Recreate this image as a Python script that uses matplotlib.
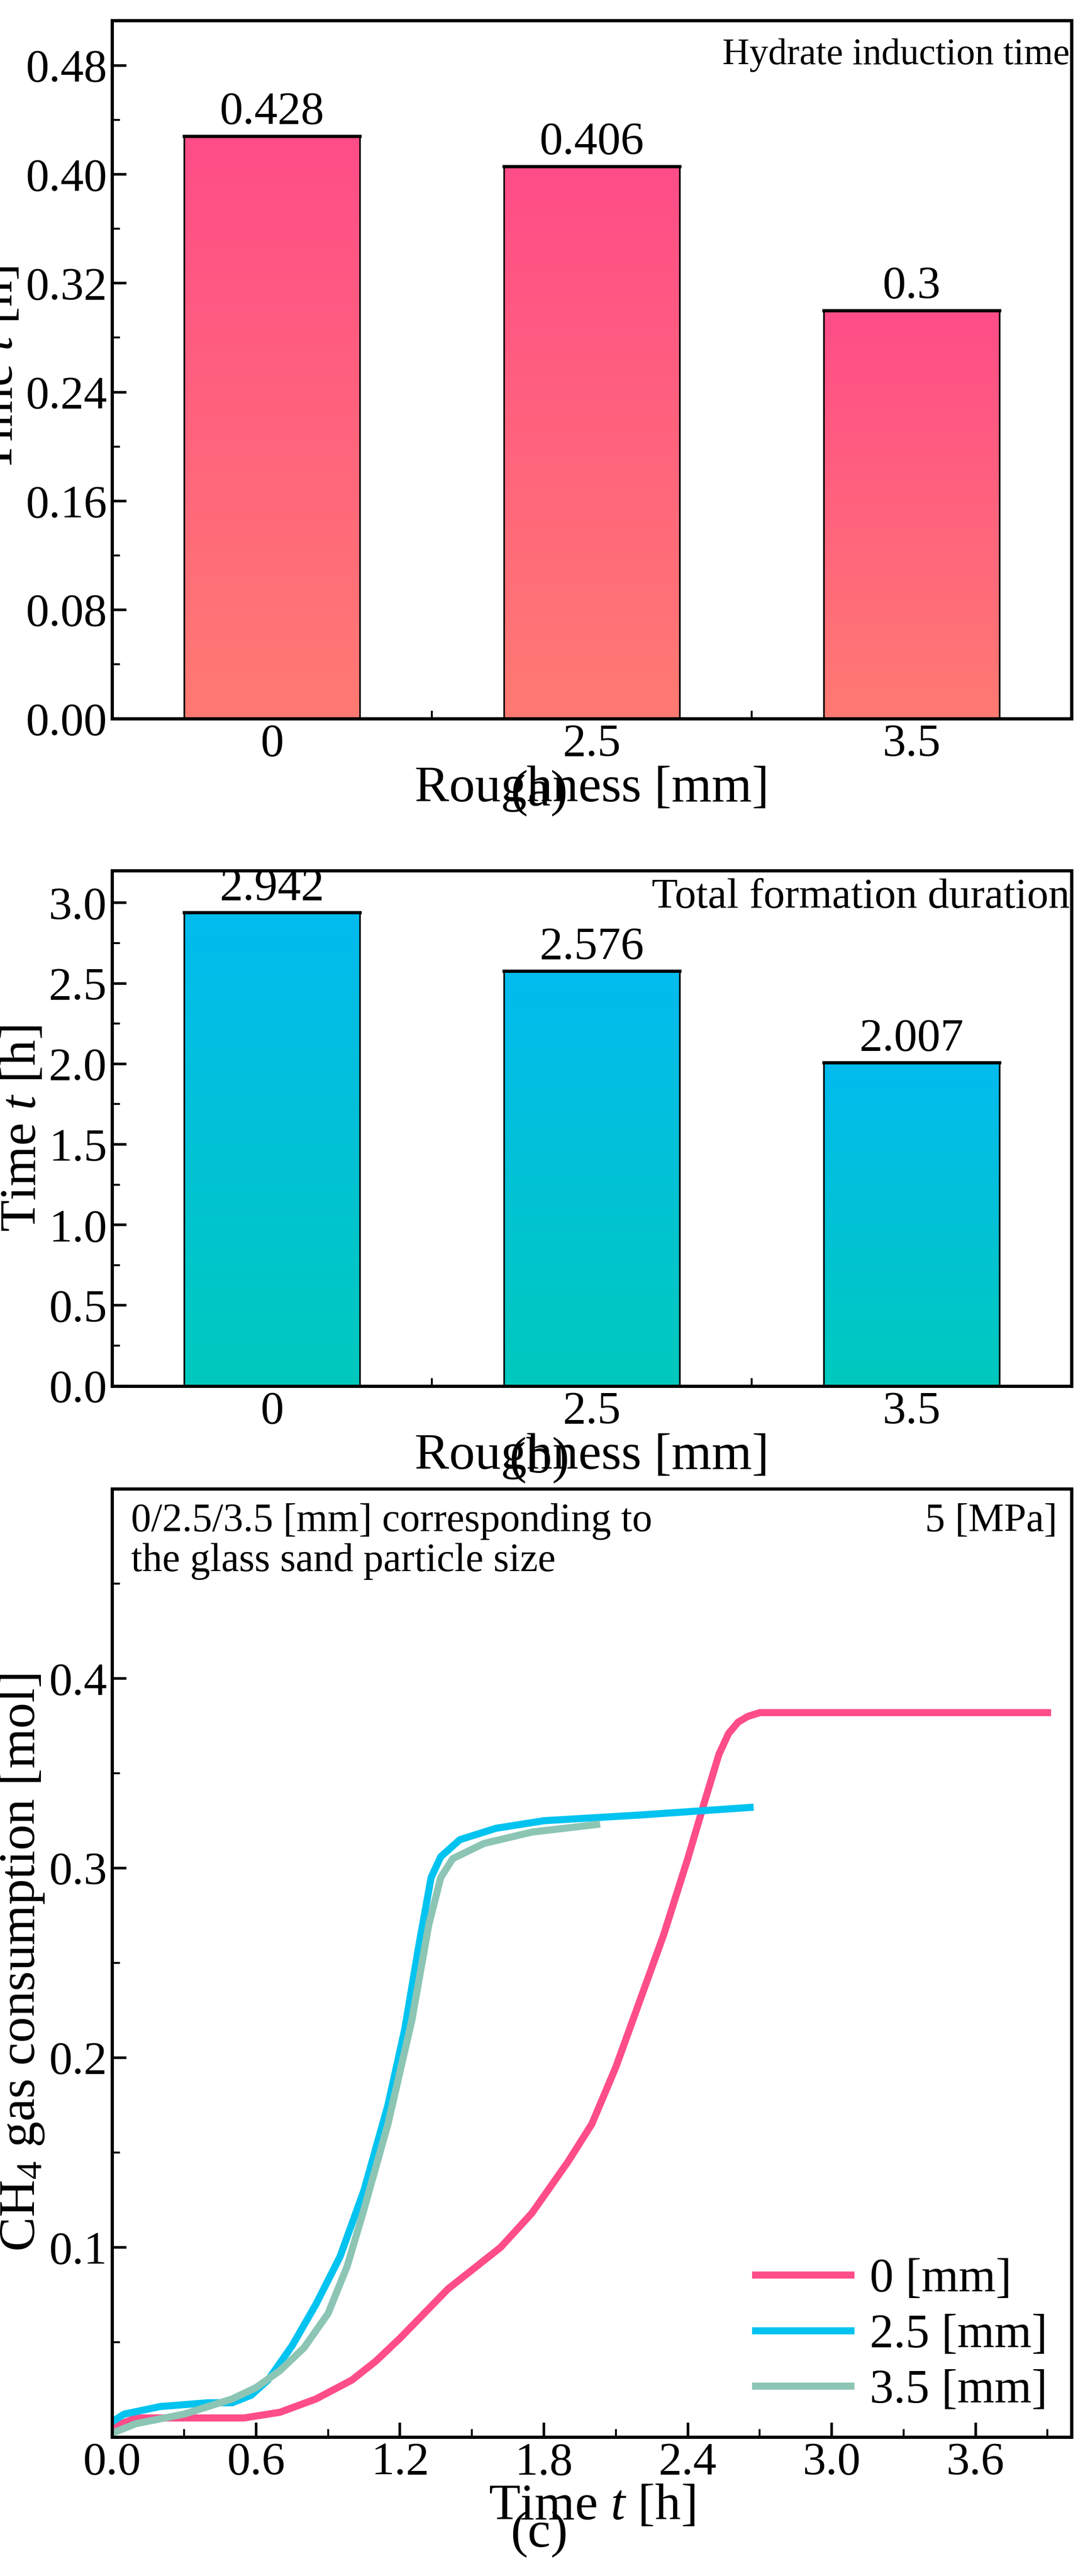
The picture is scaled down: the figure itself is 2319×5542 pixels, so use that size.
import numpy as np
import matplotlib
matplotlib.use("Agg")
import matplotlib.pyplot as plt
from matplotlib.colors import LinearSegmentedColormap
from matplotlib.ticker import MultipleLocator, AutoMinorLocator, FormatStrFormatter

plt.rcParams["font.family"] = "serif"
plt.rcParams["font.serif"] = ["Liberation Serif", "DejaVu Serif"]
plt.rcParams["mathtext.fontset"] = "custom"
plt.rcParams["mathtext.it"] = "Liberation Serif:italic"
plt.rcParams["mathtext.rm"] = "Liberation Serif"

roughness = ["0", "2.5", "3.5"]
induction = [0.428, 0.406, 0.3]
induction_lbl = ["0.428", "0.406", "0.3"]
duration = [2.942, 2.576, 2.007]
duration_lbl = ["2.942", "2.576", "2.007"]

t0 = [0, 0.1, 0.3, 0.55, 0.7, 0.85, 1.0, 1.1, 1.2, 1.3, 1.4, 1.5, 1.62, 1.75, 1.9, 2.0,
      2.1, 2.2, 2.3, 2.4, 2.47, 2.53, 2.57, 2.61, 2.65, 2.7, 3.9]
c0 = [0.005, 0.01, 0.01, 0.01, 0.013, 0.02, 0.03, 0.04, 0.052, 0.065, 0.078, 0.088, 0.1,
      0.118, 0.145, 0.165, 0.195, 0.23, 0.265, 0.305, 0.335, 0.36, 0.371, 0.377, 0.38,
      0.382, 0.382]
t25 = [0, 0.05, 0.2, 0.4, 0.5, 0.58, 0.65, 0.75, 0.85, 0.95, 1.05, 1.15, 1.22, 1.28, 1.33,
       1.37, 1.45, 1.6, 1.8, 2.2, 2.66]
c25 = [0.008, 0.012, 0.016, 0.018, 0.018, 0.022, 0.03, 0.048, 0.07, 0.095, 0.13, 0.175,
       0.215, 0.26, 0.295, 0.306, 0.315, 0.321, 0.325, 0.328, 0.332]
t35 = [0, 0.1, 0.3, 0.5, 0.6, 0.7, 0.8, 0.9, 0.98, 1.05, 1.15, 1.25, 1.32, 1.37, 1.42, 1.55,
       1.75, 2.02]
c35 = [0.002, 0.007, 0.012, 0.02, 0.026, 0.035, 0.047, 0.065, 0.09, 0.12, 0.165, 0.22, 0.27,
       0.295, 0.305, 0.313, 0.319, 0.323]

TS, LS, SW = 72, 80, 5

fig = plt.figure(figsize=(23.19, 55.42), dpi=100)


def style(ax):
    for s in ax.spines.values():
        s.set_linewidth(SW)
    ax.tick_params(which="major", direction="in", length=22, width=SW - 1, labelsize=TS, pad=8)
    ax.tick_params(which="minor", direction="in", length=12, width=SW - 2)
    ax.tick_params(top=False, right=False, which="both")


def grad_bars(ax, vals, labels, top_c, bot_c, ymax, fmt_off):
    cmap = LinearSegmentedColormap.from_list("g", [bot_c, top_c])
    x = np.arange(len(vals))
    for xi, v, lb in zip(x, vals, labels):
        bar = ax.bar(xi, v, width=0.55, color="none", edgecolor="black", lw=2.5, zorder=3)[0]
        im = ax.imshow(np.linspace(0, 1, 256).reshape(-1, 1), cmap=cmap, origin="lower",
                       extent=[xi - 0.275, xi + 0.275, 0, v], aspect="auto", zorder=2)
        im.set_clip_path(bar)
        ax.plot([xi - 0.275, xi + 0.275], [v, v], color="black", lw=5, zorder=4)
        ax.text(xi, v + fmt_off, lb, ha="center", va="bottom", fontsize=TS)
    ax.set_xlim(-0.5, 2.5)
    ax.set_ylim(0, ymax)
    ax.set_xticks(x)
    ax.set_xticklabels(roughness)
    ax.xaxis.set_minor_locator(MultipleLocator(0.5))
    ax.set_xlabel("Roughness [mm]", fontsize=LS, labelpad=0)
    ax.set_ylabel("Time $t$ [h]", fontsize=LS, labelpad=4)


# (a)
axa = fig.add_axes([0.104, 0.721, 0.89, 0.271])
grad_bars(axa, induction, induction_lbl, "#FF4D88", "#FF7A72", 0.513, 0.002)
axa.yaxis.set_major_locator(MultipleLocator(0.08))
axa.yaxis.set_major_formatter(FormatStrFormatter("%.2f"))
axa.yaxis.set_minor_locator(AutoMinorLocator(2))
axa.text(0.998, 0.975, "Hydrate induction time", transform=axa.transAxes, ha="right", va="top",
         fontsize=58)
style(axa)
fig.text(0.5, 0.692, "(a)", ha="center", va="center", fontsize=LS)

# (b)
axb = fig.add_axes([0.104, 0.462, 0.89, 0.200])
grad_bars(axb, duration, duration_lbl, "#00BBEE", "#00C9BD", 3.2, 0.015)
axb.yaxis.set_major_locator(MultipleLocator(0.5))
axb.yaxis.set_major_formatter(FormatStrFormatter("%.1f"))
axb.yaxis.set_minor_locator(AutoMinorLocator(2))
axb.text(0.998, 0.985, "Total formation duration", transform=axb.transAxes, ha="right", va="top",
         fontsize=66)
style(axb)
fig.text(0.5, 0.433, "(b)", ha="center", va="center", fontsize=LS)

# (c)
axc = fig.add_axes([0.104, 0.054, 0.89, 0.368])
axc.plot(t0, c0, color="#FF4D88", lw=11, label="0 [mm]")
axc.plot(t25, c25, color="#00C3F0", lw=11, label="2.5 [mm]")
axc.plot(t35, c35, color="#8CC5B4", lw=11, label="3.5 [mm]")
axc.set_xlim(0, 4.0)
axc.set_ylim(0, 0.5)
axc.set_xticks([0, 0.6, 1.2, 1.8, 2.4, 3.0, 3.6])
axc.xaxis.set_major_formatter(FormatStrFormatter("%.1f"))
axc.xaxis.set_minor_locator(AutoMinorLocator(2))
axc.set_yticks([0.1, 0.2, 0.3, 0.4])
axc.yaxis.set_minor_locator(AutoMinorLocator(2))
axc.set_xlabel("Time $t$ [h]", fontsize=LS, labelpad=0)
axc.set_ylabel("CH$_4$ gas consumption [mol]", fontsize=LS, labelpad=4)
axc.text(0.02, 0.985, "0/2.5/3.5 [mm] corresponding to\nthe glass sand particle size",
         transform=axc.transAxes, ha="left", va="top", fontsize=62, linespacing=1.1)
axc.text(0.985, 0.985, "5 [MPa]", transform=axc.transAxes, ha="right", va="top", fontsize=62)
axc.legend(loc="lower right", fontsize=74, frameon=False, handlelength=2.0, borderaxespad=0.1,
           labelspacing=0.25, handletextpad=0.4)
style(axc)
fig.text(0.5, 0.016, "(c)", ha="center", va="center", fontsize=LS)

fig.savefig("out.png", dpi=100)
